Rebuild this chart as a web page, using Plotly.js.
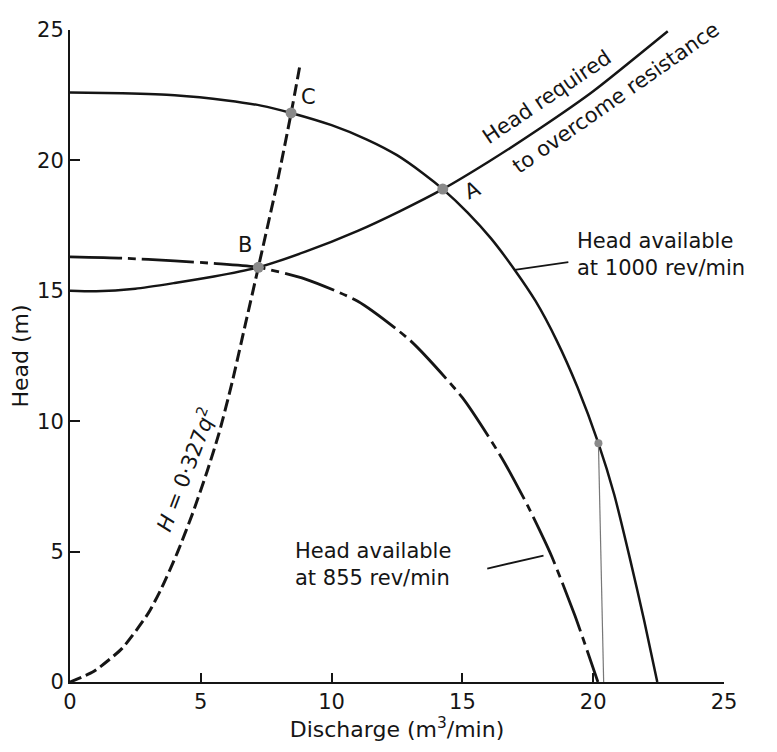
<!DOCTYPE html>
<html>
<head>
<meta charset="utf-8">
<script src="https://cdn.plot.ly/plotly-3.0.1.min.js"></script>
<style>html,body{margin:0;padding:0;background:#fff;}#chart{width:777px;height:752px;}</style>
</head>
<body>
<div id="chart"></div>
<script>
// Axis ticks
const xTickVals = [0, 5, 10, 15, 20, 25];
const yTickVals = [0, 5, 10, 15, 20, 25];

// Head available at 1000 rev/min
const q1000 = [0, 2, 4, 6, 7.3, 8.45, 10, 11.35, 12.5, 13.5, 14.25, 15.2, 16.1, 17.0, 17.8, 18.6, 19.4, 20.2, 20.8, 21.4, 21.95, 22.45];
const h1000 = [22.6, 22.57, 22.5, 22.3, 22.1, 21.82, 21.35, 20.8, 20.2, 19.5, 18.9, 18.0, 17.0, 15.8, 14.6, 13.1, 11.3, 9.15, 7.2, 4.75, 2.35, 0];

// Head available at 855 rev/min
const q855 = [0, 2, 4, 5.5, 7.2, 9, 11, 13, 15, 16.5, 17.5, 18.4, 19.3, 20.18];
const h855 = [16.3, 16.25, 16.15, 16.05, 15.9, 15.45, 14.6, 13.1, 10.9, 8.6, 6.75, 4.85, 2.55, 0];

// Head required to overcome resistance
const qReq = [0, 1, 2.5, 4, 5.5, 7.2, 9, 11, 12.6, 14.25, 16, 18, 20, 22.85];
const hReq = [15.0, 14.98, 15.08, 15.3, 15.55, 15.9, 16.5, 17.3, 18.05, 18.9, 19.95, 21.25, 22.65, 24.95];

// H = 0.327 q^2 curve
const qPar = [0, 0.9, 2, 3, 3.5, 4.1, 4.7, 5.25, 5.7, 6.2, 6.7, 7.2, 7.9, 8.45, 8.8];
const hPar = [0, 0.4, 1.3, 2.65, 3.6, 4.95, 6.5, 8.1, 9.55, 11.5, 13.7, 15.9, 19.05, 21.8, 23.7];

// Marked points A, B, C and the point on the 1000 rev/min curve
const ptLabels = ['A', 'B', 'C'];
const ptQ = [14.25, 7.2, 8.45];
const ptH = [18.9, 15.9, 21.82];
const dotQ = [20.2];
const dotH = [9.15];
const dropQ = [20.2, 20.4];
const dropH = [9.15, 0];

// Leader lines for the curve labels
const lead1000Q = [17.0, 19.05];
const lead1000H = [15.8, 16.1];
const lead855Q = [15.95, 18.1];
const lead855H = [4.35, 4.85];

const ink = '#151515';
const FONT = 'DejaVu Sans';

const traces = [
  {x: q1000, y: h1000, mode: 'lines', line: {color: ink, width: 2.5, shape: 'spline', smoothing: 0.6}, hoverinfo: 'skip'},
  {x: q855, y: h855, mode: 'lines', line: {color: ink, width: 2.8, shape: 'spline', smoothing: 0.6, dash: '52px,6px,8px,6px'}, hoverinfo: 'skip'},
  {x: qReq, y: hReq, mode: 'lines', line: {color: ink, width: 2.5, shape: 'spline', smoothing: 0.6}, hoverinfo: 'skip'},
  {x: qPar, y: hPar, mode: 'lines', line: {color: ink, width: 3, shape: 'spline', smoothing: 0.6, dash: '12px,5px'}, hoverinfo: 'skip'},
  {x: dropQ, y: dropH, mode: 'lines', line: {color: '#777', width: 1.2}, hoverinfo: 'skip'},
  {x: lead1000Q, y: lead1000H, mode: 'lines', line: {color: ink, width: 1.8}, hoverinfo: 'skip'},
  {x: lead855Q, y: lead855H, mode: 'lines', line: {color: ink, width: 1.8}, hoverinfo: 'skip'},
  {x: ptQ, y: ptH, mode: 'markers', marker: {color: '#8a8a8a', size: 11, symbol: 'circle'}, text: ptLabels, hoverinfo: 'text'},
  {x: dotQ, y: dotH, mode: 'markers', marker: {color: '#8a8a8a', size: 8, symbol: 'circle'}, hoverinfo: 'skip'}
];

const tf = {family: FONT, size: 21, color: ink};
const annotations = [
  {x: 9.1, y: 22.43, text: 'C', showarrow: false, font: tf},
  {x: 6.69, y: 16.76, text: 'B', showarrow: false, font: tf},
  {x: 15.4, y: 18.87, text: 'A', showarrow: false, font: tf, textangle: -25},
  {x: 18.23, y: 22.43, text: 'Head required', showarrow: false, font: tf, textangle: -34},
  {x: 20.86, y: 22.38, text: 'to overcome resistance', showarrow: false, font: tf, textangle: -35},
  {x: 19.3, y: 16.4, text: 'Head available<br>at 1000 rev/min', showarrow: false, xanchor: 'left', align: 'left', font: tf},
  {x: 8.52, y: 4.52, text: 'Head available<br>at 855 rev/min', showarrow: false, xanchor: 'left', align: 'left', font: tf},
  {x: 4.4, y: 8.17, text: '<i>H</i> = 0·327<i>q</i><sup>2</sup>', showarrow: false, font: tf, textangle: -69}
];

const layout = {
  width: 777, height: 752,
  margin: {l: 70, r: 53, t: 30, b: 70},
  paper_bgcolor: '#fff', plot_bgcolor: '#fff',
  showlegend: false,
  xaxis: {
    range: [0, 25], tickvals: xTickVals, ticktext: xTickVals.map(String),
    ticks: 'inside', ticklen: 9, tickwidth: 2, tickcolor: ink,
    showline: true, linewidth: 2, linecolor: ink, showgrid: false, zeroline: false,
    tickfont: {family: FONT, size: 21, color: ink},
    title: {text: '\u00a0\u00a0\u00a0\u00a0Discharge (m<sup>3</sup>/min)', font: {family: FONT, size: 22, color: ink}, standoff: 4}
  },
  yaxis: {
    range: [0, 25], tickvals: yTickVals, ticktext: yTickVals.map(String),
    ticks: 'inside', ticklen: 10, tickwidth: 2, tickcolor: ink,
    showline: true, linewidth: 2, linecolor: ink, showgrid: false, zeroline: false,
    tickfont: {family: FONT, size: 21, color: ink},
    title: {text: 'Head (m)', font: {family: FONT, size: 22, color: ink}, standoff: 2}
  },
  annotations: annotations
};

Plotly.newPlot('chart', traces, layout, {staticPlot: true, displayModeBar: false});
</script>
</body>
</html>
